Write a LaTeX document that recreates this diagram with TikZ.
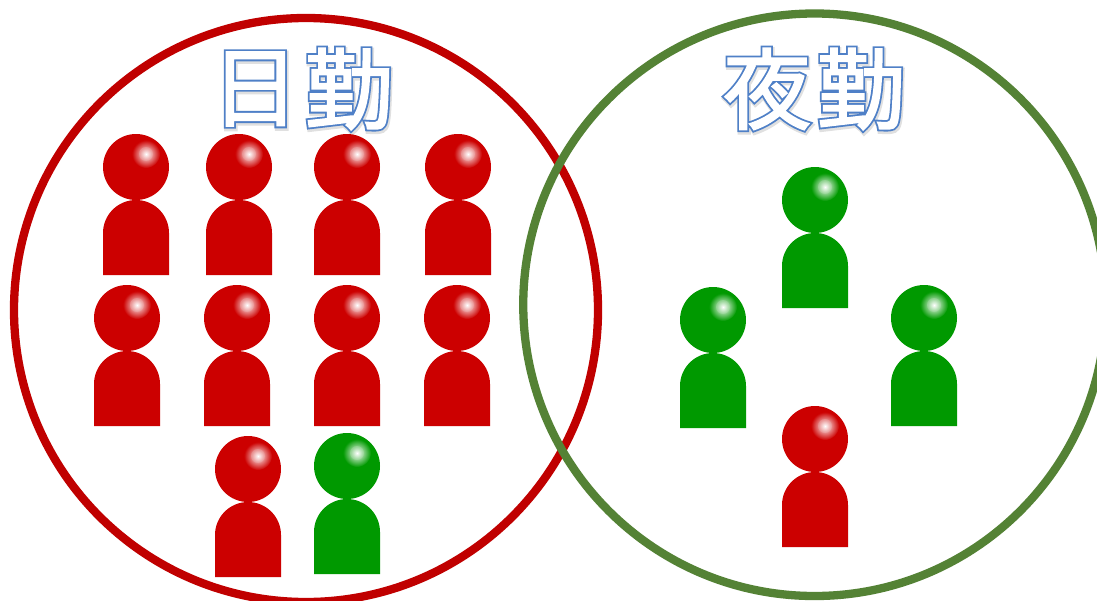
\documentclass[tikz,border=0pt]{standalone}
\usepackage{fontspec}
\newfontfamily\cjk{Noto Sans CJK JP}
\definecolor{redring}{HTML}{C00000}
\definecolor{greenring}{HTML}{548235}
\definecolor{redman}{HTML}{CC0000}
\definecolor{greenman}{HTML}{009900}
\newcommand{\glyphlayer}[3]{\special{pdf:code q 2 Tr #1 w #2 RG #3 rg}{\cjk\fontsize{88pt}{88pt}\selectfont\glyphtext}\special{pdf:code Q}}
\newcommand{\outlined}[1]{\def\glyphtext{#1}\makebox[0pt][l]{\glyphlayer{5.4}{0.31 0.50 0.78}{0.31 0.50 0.78}}\glyphlayer{1.8}{1 1 1}{1 1 1}}
\newcommand{\softshadow}[1]{\def\glyphtext{#1}\glyphlayer{6.6}{0.88 0.88 0.88}{0.88 0.88 0.88}}
\tikzset{
  x=1pt,y=-1pt,
  ring/.style={line width=8.3pt,draw=#1},
  title/.style={inner sep=0pt,outer sep=0pt,anchor=center},
  person/.pic={
    \fill[#1] (0,0) circle[radius=33];
    \fill[#1] (-33,66) arc[start angle=180,end angle=360,radius=33] -- (33,108) -- (-33,108) -- cycle;
    \shade[inner color=white,outer color=#1] (10,-13) circle[radius=14];
    \shade[inner color=white,outer color=white!60!#1,opacity=0.6] (10,-13) circle[radius=7];
  }
}
\begin{document}
\begin{tikzpicture}
\useasboundingbox (0,0) rectangle (1097,600);
\fill[white] (0,0) rectangle (1097,600);
\clip (0,0) rectangle (1097,600);
\draw[ring=redring] (306,310) circle[radius=292];
\draw[ring=greenring] (814.5,304.75) circle[radius=291.25];
\node[title] (s1) at (256,91) {\softshadow{日}};
\node[title] (s2) at (350,91) {\softshadow{勤}};
\node[title] (s3) at (768,91) {\softshadow{夜}};
\node[title] (s4) at (862,91) {\softshadow{勤}};
\node[title] (t1) at (255,89) {\outlined{日}};
\node[title] (t2) at (349,89) {\outlined{勤}};
\node[title] (t3) at (767,89) {\outlined{夜}};
\node[title] (t4) at (861,89) {\outlined{勤}};
\foreach \px/\py in {136/167,239/167,347/167,458/167,127/318,237/318,347/318,457/318,248/469,815/439}
  \pic at (\px,\py) {person=redman};
\foreach \px/\py in {347/466,815/200,713/320,924/318}
  \pic at (\px,\py) {person=greenman};
\end{tikzpicture}
\end{document}
